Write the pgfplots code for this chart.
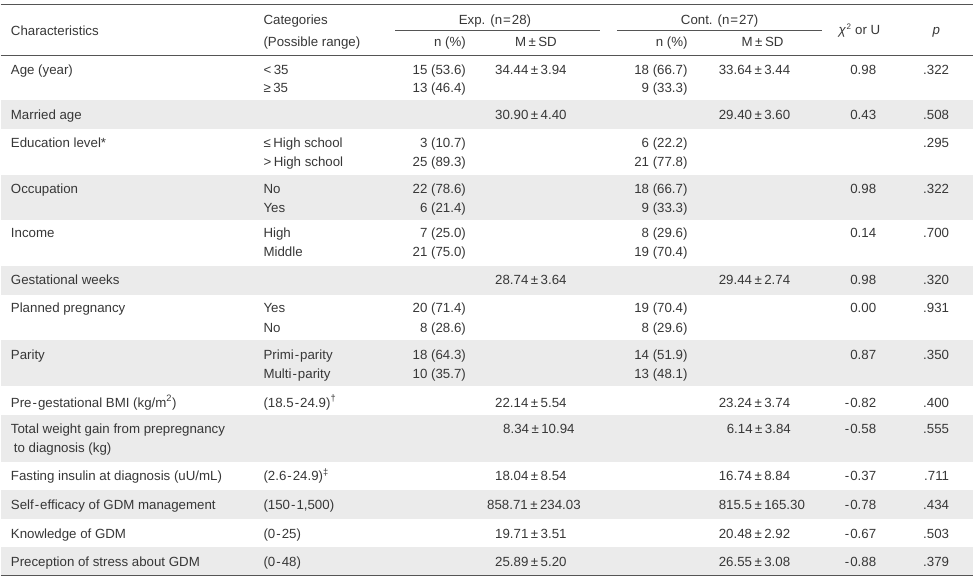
\documentclass[border=0pt]{standalone}
\usepackage{fontspec}
\setmainfont{Liberation Sans}
\usepackage{pgfplots}
\pgfplotsset{compat=1.18}
\definecolor{rowgray}{RGB}{235,235,235}
\definecolor{txt}{RGB}{55,55,55}
\definecolor{rulec}{RGB}{85,85,85}
\tikzset{cell/.style={inner sep=0pt,text=txt,font=\fontsize{13.3}{15}\selectfont}}
\newcommand{\TL}[3]{\node[cell,anchor=base west] at (axis cs:#1,#2) {#3};}
\newcommand{\TR}[3]{\node[cell,anchor=base east] at (axis cs:#1,#2) {#3};}
\newcommand{\TC}[3]{\node[cell,anchor=base] at (axis cs:#1,#2) {#3};}
\newcommand{\PM}{\kern2.5pt±\kern2.5pt}
\newcommand{\HY}{\kern1pt-\kern1pt}
\begin{document}
\begin{tikzpicture}
\begin{axis}[width=974pt,height=582pt,scale only axis,
  xmin=0,xmax=974,ymin=0,ymax=582,y dir=reverse,hide axis,clip=false]
\path (axis cs:0,0) rectangle (axis cs:974,582);
% shaded rows
\addplot[fill=rowgray,draw=none] coordinates {(0,100)(974,100)(974,129)(0,129)} -- cycle;
\addplot[fill=rowgray,draw=none] coordinates {(0,175)(974,175)(974,220)(0,220)} -- cycle;
\addplot[fill=rowgray,draw=none] coordinates {(0,266)(974,266)(974,295)(0,295)} -- cycle;
\addplot[fill=rowgray,draw=none] coordinates {(0,341)(974,341)(974,387)(0,387)} -- cycle;
\addplot[fill=rowgray,draw=none] coordinates {(0,416)(974,416)(974,463)(0,463)} -- cycle;
\addplot[fill=rowgray,draw=none] coordinates {(0,491)(974,491)(974,520)(0,520)} -- cycle;
\addplot[fill=rowgray,draw=none] coordinates {(0,548)(974,548)(974,576)(0,576)} -- cycle;
% rules
\addplot[draw=rulec,line width=1.5pt] coordinates {(0,4.5)(974,4.5)};
\addplot[draw=rulec,line width=0.9pt] coordinates {(395,30.5)(600,30.5)};
\addplot[draw=rulec,line width=0.9pt] coordinates {(617,30.5)(823,30.5)};
\addplot[draw=rulec,line width=1pt] coordinates {(0,55.5)(974,55.5)};
\addplot[draw=rulec,line width=1.5pt] coordinates {(0,576.5)(974,576.5)};
% header
\TL{10}{35.7}{Characteristics}
\TL{263}{24.7}{Categories}
\TL{263}{46.7}{(Possible range)}
\TC{495}{24.7}{Exp. (n\kern1pt=\kern1pt28)}
\TC{720}{24.7}{Cont. (n\kern1pt=\kern1pt27)}
\TR{466}{46.7}{n (\%)}
\TC{536}{46.7}{M\PM SD}
\TR{688}{46.7}{n (\%)}
\TC{763}{46.7}{M\PM SD}
\TC{860}{34.7}{\textit{χ}\kern0.5pt\textsuperscript{\fontsize{8}{9}\selectfont 2} or U}
\TC{937}{34.7}{\textit{p}}
% Age
\TL{10}{74.7}{Age (year)}
\TL{263}{74.7}{<\kern2.5pt35}
\TL{263}{92.7}{≥\kern2.5pt35}
\TR{466}{74.7}{15 (53.6)}
\TR{466}{92.7}{13 (46.4)}
\TL{495}{74.7}{34.44\PM 3.94}
\TR{688}{74.7}{18 (66.7)}
\TR{688}{92.7}{9 (33.3)}
\TL{719}{74.7}{33.64\PM 3.44}
\TR{877}{74.7}{0.98}
\TR{950}{74.7}{.322}
% Married age
\TL{10}{119.7}{Married age}
\TL{495}{119.7}{30.90\PM 4.40}
\TL{719}{119.7}{29.40\PM 3.60}
\TR{877}{119.7}{0.43}
\TR{950}{119.7}{.508}
% Education
\TL{10}{148.2}{Education level*}
\TL{263}{148.2}{≤\kern2.5pt High school}
\TL{263}{167.2}{>\kern2.5pt High school}
\TR{466}{148.2}{3 (10.7)}
\TR{466}{167.2}{25 (89.3)}
\TR{688}{148.2}{6 (22.2)}
\TR{688}{167.2}{21 (77.8)}
\TR{950}{148.2}{.295}
% Occupation
\TL{10}{193.7}{Occupation}
\TL{263}{193.7}{No}
\TL{263}{212.7}{Yes}
\TR{466}{193.7}{22 (78.6)}
\TR{466}{212.7}{6 (21.4)}
\TR{688}{193.7}{18 (66.7)}
\TR{688}{212.7}{9 (33.3)}
\TR{877}{193.7}{0.98}
\TR{950}{193.7}{.322}
% Income
\TL{10}{237.7}{Income}
\TL{263}{237.7}{High}
\TL{263}{257.2}{Middle}
\TR{466}{237.7}{7 (25.0)}
\TR{466}{257.2}{21 (75.0)}
\TR{688}{237.7}{8 (29.6)}
\TR{688}{257.2}{19 (70.4)}
\TR{877}{237.7}{0.14}
\TR{950}{237.7}{.700}
% Gestational weeks
\TL{10}{284.7}{Gestational weeks}
\TL{495}{284.7}{28.74\PM 3.64}
\TL{719}{284.7}{29.44\PM 2.74}
\TR{877}{284.7}{0.98}
\TR{950}{284.7}{.320}
% Planned pregnancy
\TL{10}{312.7}{Planned pregnancy}
\TL{263}{312.7}{Yes}
\TL{263}{332.7}{No}
\TR{466}{312.7}{20 (71.4)}
\TR{466}{332.7}{8 (28.6)}
\TR{688}{312.7}{19 (70.4)}
\TR{688}{332.7}{8 (29.6)}
\TR{877}{312.7}{0.00}
\TR{950}{312.7}{.931}
% Parity
\TL{10}{359.7}{Parity}
\TL{263}{359.7}{Primi\HY parity}
\TL{263}{378.7}{Multi\HY parity}
\TR{466}{359.7}{18 (64.3)}
\TR{466}{378.7}{10 (35.7)}
\TR{688}{359.7}{14 (51.9)}
\TR{688}{378.7}{13 (48.1)}
\TR{877}{359.7}{0.87}
\TR{950}{359.7}{.350}
% BMI
\TL{10}{407.7}{Pre\HY gestational BMI (kg/m\textsuperscript{2})}
\TL{263}{407.7}{(18.5\HY 24.9)\textsuperscript{†}}
\TL{495}{407.7}{22.14\PM 5.54}
\TL{719}{407.7}{23.24\PM 3.74}
\TR{877}{407.7}{-\kern1pt0.82}
\TR{950}{407.7}{.400}
% Total weight gain
\TL{10}{433.7}{Total weight gain from prepregnancy}
\TL{13}{452.7}{to diagnosis (kg)}
\TL{503}{433.7}{8.34\PM 10.94}
\TL{727}{433.7}{6.14\PM 3.84}
\TR{877}{433.7}{-\kern1pt0.58}
\TR{950}{433.7}{.555}
% Fasting insulin
\TL{10}{481.7}{Fasting insulin at diagnosis (uU/mL)}
\TL{263}{481.7}{(2.6\HY 24.9)\textsuperscript{‡}}
\TL{495}{481.7}{18.04\PM 8.54}
\TL{719}{481.7}{16.74\PM 8.84}
\TR{877}{481.7}{-\kern1pt0.37}
\TR{950}{481.7}{.711}
% Self-efficacy
\TL{10}{510.7}{Self\HY efficacy of GDM management}
\TL{263}{510.7}{(150\HY 1,500)}
\TL{487}{510.7}{858.71\PM 234.03}
\TL{719}{510.7}{815.5\PM 165.30}
\TR{877}{510.7}{-\kern1pt0.78}
\TR{950}{510.7}{.434}
% Knowledge
\TL{10}{539.7}{Knowledge of GDM}
\TL{263}{539.7}{(0\HY 25)}
\TL{495}{539.7}{19.71\PM 3.51}
\TL{719}{539.7}{20.48\PM 2.92}
\TR{877}{539.7}{-\kern1pt0.67}
\TR{950}{539.7}{.503}
% Stress
\TL{10}{567.7}{Preception of stress about GDM}
\TL{263}{567.7}{(0\HY 48)}
\TL{495}{567.7}{25.89\PM 5.20}
\TL{719}{567.7}{26.55\PM 3.08}
\TR{877}{567.7}{-\kern1pt0.88}
\TR{950}{567.7}{.379}
\end{axis}
\end{tikzpicture}
\end{document}
